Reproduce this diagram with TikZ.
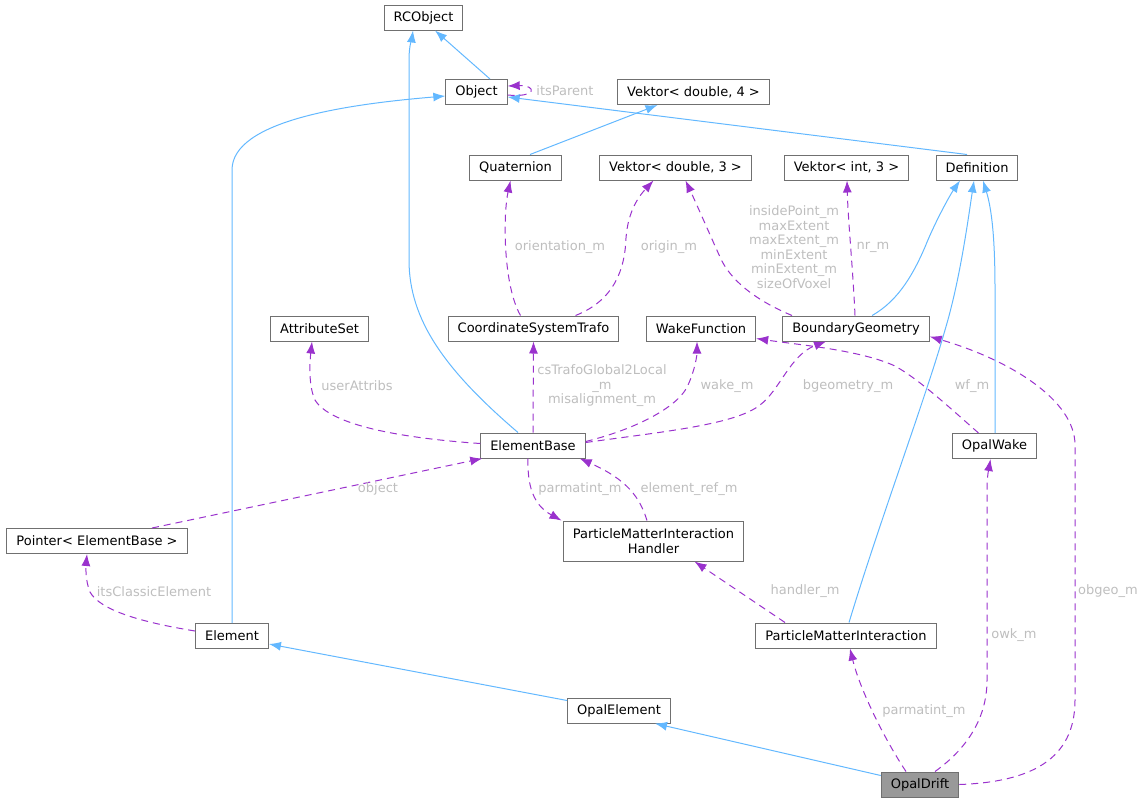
\documentclass[tikz,border=0pt]{standalone}
\usepackage{fontspec}
\setmainfont{DejaVu Sans}
\usetikzlibrary{arrows.meta}
\definecolor{boxline}{HTML}{707070}
\definecolor{hilite}{HTML}{999999}
\definecolor{inhblue}{HTML}{63B8FF}
\definecolor{usepurple}{HTML}{9A32CD}
\definecolor{lblgrey}{HTML}{BEBEBE}

\begin{document}
\begin{tikzpicture}[x=1pt,y=-1pt]
  \tikzset{
    cls/.style={draw=boxline,fill=white,line width=1pt,inner xsep=9.5pt,inner ysep=0pt,
      minimum height=25pt,align=center,font=\fontsize{13}{15}\selectfont},
    hcls/.style={cls,fill=hilite},
    inh/.style={-{Latex[length=12pt,width=9pt]},inhblue,line width=1pt},
    mem/.style={-{Latex[length=12pt,width=9pt]},usepurple,line width=1pt,dash pattern=on 7pt off 5pt},
    lbl/.style={text=lblgrey,inner sep=0pt,align=center,font=\fontsize{13}{14.5}\selectfont}
  }
  \useasboundingbox (0,0) rectangle (1147,804);

  % classes
  \node[cls] (rco) at (423.5,17.5) {RCObject};
  \node[cls] (obj) at (476.5,92) {Object};
  \node[cls] (v4) at (693.5,92) {Vektor< double, 4 >};
  \node[cls] (quat) at (515.5,167.5) {Quaternion};
  \node[cls] (v3) at (675.5,167.5) {Vektor< double, 3 >};
  \node[cls] (vi3) at (846.5,167.5) {Vektor< int, 3 >};
  \node[cls] (def) at (977,167.5) {Definition};
  \node[cls] (attr) at (319.5,328.5) {AttributeSet};
  \node[cls] (cst) at (533.5,328.5) {CoordinateSystemTrafo};
  \node[cls] (wfun) at (701,328.5) {WakeFunction};
  \node[cls] (bg) at (856,328.5) {BoundaryGeometry};
  \node[cls] (eb) at (533,445.5) {ElementBase};
  \node[cls] (owake) at (994.5,446) {OpalWake};
  \node[cls] (ptr) at (97,541) {Pointer< ElementBase >};
  \node[cls,minimum height=40pt] (pmih) at (653.5,541)
    {ParticleMatterInteraction\\Handler};
  \node[cls] (el) at (232,636) {Element};
  \node[cls] (pmi) at (846,635.5) {ParticleMatterInteraction};
  \node[cls] (oel) at (619,710.5) {OpalElement};
  \node[hcls] (odr) at (920,784.5) {OpalDrift};

  % inheritance
  \draw[inh] ([xshift=13.5pt]obj.north) -- ([xshift=11.5pt]rco.south);
  \draw[inh] ([xshift=-15pt]eb.north) .. controls (445,370) and (409,320) .. (409,260)
    -- (409,60) .. controls (409,45) and (412,38) .. ([xshift=-10.5pt]rco.south);
  \draw[inh] (el.north) -- (232,170) .. controls (232,120) and (350,104) .. ([yshift=-4pt]obj.west);
  \draw[inh] ([xshift=14.5pt]quat.north) -- ([xshift=-36pt]v4.south);
  \draw[inh] ([xshift=-10pt]def.north) -- ([yshift=-5pt]obj.east);
  \draw[inh] ([xshift=16pt]bg.north) .. controls (900,300) and (915,270) .. (925,247)
    .. controls (935,222) and (950,195) .. ([xshift=-17pt]def.south);
  \draw[inh] ([xshift=0.5pt]owake.north) -- (995,290) .. controls (995,240) and (992,210)
    .. ([xshift=6pt]def.south);
  \draw[inh] ([xshift=3pt]pmi.north) .. controls (880,520) and (925,400) .. (945,330)
    .. controls (960,280) and (968,220) .. ([xshift=-3pt]def.south);
  \draw[inh] ([yshift=10pt]oel.west) -- ([yshift=-8pt]el.east);
  \draw[inh] ([yshift=9pt]odr.west) -- ([xshift=36pt]oel.south);

  % members
  \draw[mem] ([yshift=-3pt]obj.east) .. controls (537,98) and (537,85) .. ([yshift=6pt]obj.east);
  \node[lbl] (lparent) at (565,91) {itsParent};
  \draw[mem] ([xshift=-13pt]cst.north) .. controls (503,285) and (503,215) .. ([xshift=-5pt]quat.south);
  \node[lbl] (lorient) at (560,247) {orientation\_m};
  \draw[mem] ([xshift=42pt]cst.north) .. controls (615,300) and (625,268) .. (626,238)
    .. controls (628,210) and (640,195) .. ([xshift=-22pt]v3.south);
  \node[lbl] (lorigin) at (669,247) {origin\_m};
  \draw[mem] ([xshift=-64pt]bg.north) .. controls (755,300) and (730,280) .. (720,257)
    .. controls (710,235) and (697,205) .. ([xshift=10pt]v3.south);
  \node[lbl] (lext) at (794,247)
    {insidePoint\_m\\maxExtent\\maxExtent\_m\\minExtent\\minExtent\_m\\sizeOfVoxel};
  \draw[mem] ([xshift=-1pt]bg.north) .. controls (853,270) and (848,220) .. ([xshift=0.5pt]vi3.south);
  \node[lbl] (lnr) at (873,247) {nr\_m};
  \draw[mem] ([yshift=2pt]eb.west) .. controls (400,438) and (330,425) .. (315,400)
    .. controls (308,385) and (310,360) .. ([xshift=-7.5pt]attr.south);
  \node[lbl] (luser) at (357,386) {userAttribs};
  \draw[mem] (eb.north) -- (cst.south);
  \node[lbl] (lcs) at (602,386) {csTrafoGlobal2Local\\\_m\\misalignment\_m};
  \draw[mem] ([yshift=4pt]eb.east) .. controls (640,428) and (680,405) .. (688,385)
    .. controls (695,370) and (697,355) .. ([xshift=-4pt]wfun.south);
  \node[lbl] (lwake) at (727,386) {wake\_m};
  \draw[mem] ([yshift=3pt]eb.east) .. controls (660,432) and (735,425) .. (760,405)
    .. controls (780,390) and (790,355) .. ([xshift=-30pt]bg.south);
  \node[lbl] (lbgeo) at (848,386) {bgeometry\_m};
  \draw[mem] ([xshift=-16pt]owake.north) .. controls (950,408) and (920,380) .. (895,366)
    .. controls (860,350) and (800,345) .. ([yshift=-10pt]wfun.east);
  \node[lbl] (lwf) at (972,386) {wf\_m};
  \draw[mem] ([xshift=55pt]ptr.north) -- ([xshift=2pt]eb.south west);
  \node[lbl] (lobject) at (378,489) {object};
  \draw[mem] ([xshift=-5pt]eb.south) .. controls (527,492) and (537,507) .. ([xshift=-92pt]pmih.north);
  \node[lbl] (lpm1) at (580,489) {parmatint\_m};
  \draw[mem] ([xshift=-6.5pt]pmih.north) .. controls (640,498) and (628,480) .. ([xshift=-6pt]eb.south east);
  \node[lbl] (lref) at (689,489) {element\_ref\_m};
  \draw[mem] ([yshift=5pt]el.west) .. controls (140,622) and (100,610) .. (90,592)
    .. controls (85,580) and (86,565) .. ([xshift=-10pt]ptr.south);
  \node[lbl] (lclassic) at (154,592) {itsClassicElement};
  \draw[mem] ([xshift=-61pt]pmi.north) -- ([xshift=41pt]pmih.south);
  \node[lbl] (lhandler) at (805,591) {handler\_m};
  \draw[mem] ([xshift=-14pt]odr.north) .. controls (885,740) and (860,690) .. ([xshift=4pt]pmi.south);
  \node[lbl] (lpm2) at (924,711) {parmatint\_m};
  \draw[mem] ([xshift=15pt]odr.north) .. controls (965,750) and (987,720) .. (987,680)
    -- (987,490) .. controls (987,475) and (989,468) .. ([xshift=-4pt]owake.south);
  \node[lbl] (lowk) at (1014,635) {owk\_m};
  \draw[mem] (odr.east) .. controls (1030,782) and (1075,760) .. (1075,700)
    -- (1075,445) .. controls (1075,400) and (1010,360) .. ([yshift=-8pt]bg.east);
  \node[lbl] (lobgeo) at (1108,591) {obgeo\_m};
\end{tikzpicture}
\end{document}
